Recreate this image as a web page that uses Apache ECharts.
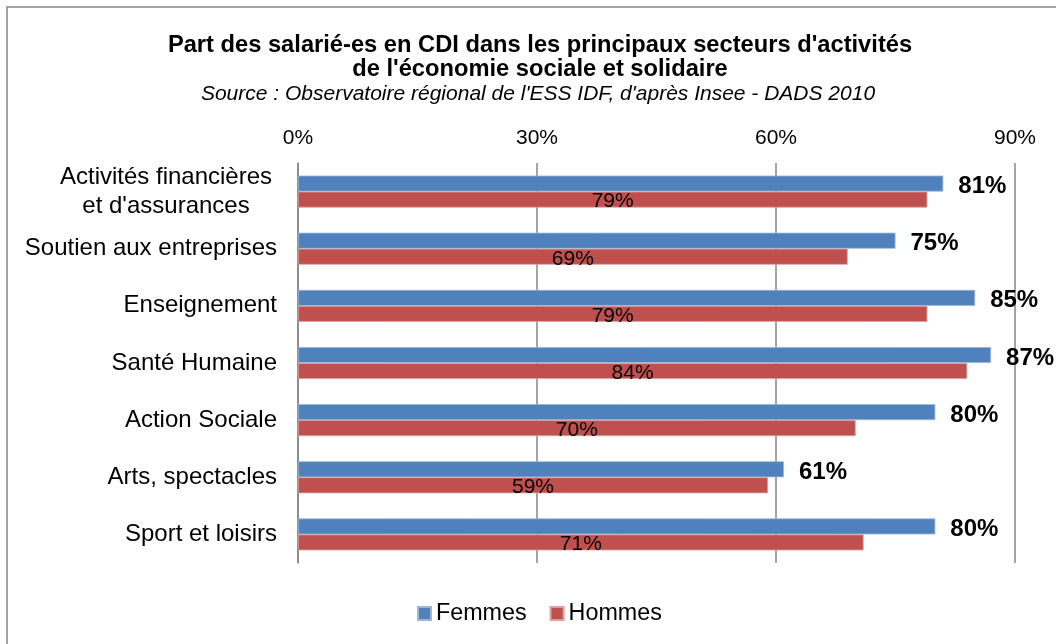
<!DOCTYPE html>
<html>
<head>
<meta charset="utf-8">
<script src="https://cdn.jsdelivr.net/npm/echarts@6/dist/echarts.min.js"></script>
<style>
  html, body { margin: 0; padding: 0; background: #fff; }
  #main { width: 1056px; height: 644px; }
</style>
</head>
<body>
<div id="main"></div>
<script>
var secteurs = [
  "Activités financières\net d'assurances",
  'Soutien aux entreprises',
  'Enseignement',
  'Santé Humaine',
  'Action Sociale',
  'Arts, spectacles',
  'Sport et loisirs'
];
var femmes = [81, 75, 85, 87, 80, 61, 80];
var hommes = [79, 69, 79, 84, 70, 59, 71];
var ticks = [0, 30, 60, 90];

var font = 'Liberation Sans, Arial, sans-serif';
var myChart = echarts.init(document.getElementById('main'));

myChart.setOption({
  textStyle: { fontFamily: font, color: '#000' },
  graphic: [{
    type: 'rect',
    shape: { x: 7, y: 7, width: 1200, height: 800 },
    style: { fill: 'none', stroke: '#868686', lineWidth: 1.5 },
    silent: true
  }],
  title: [{
    text: "Part des salarié-es en CDI dans les principaux secteurs d'activités\nde l'économie sociale et solidaire",
    left: 535,
    top: 28,
    textAlign: 'center',
    textStyle: { fontFamily: font, fontSize: 23.7, fontWeight: 'bold', color: '#000', lineHeight: 24 }
  }, {
    text: "Source : Observatoire régional de l'ESS IDF, d'après Insee - DADS 2010",
    left: 533,
    top: 79,
    textAlign: 'center',
    textStyle: { fontFamily: font, fontSize: 21, fontStyle: 'italic', fontWeight: 'normal', color: '#000' }
  }],
  legend: {
    bottom: 14,
    left: 412,
    itemWidth: 13,
    itemHeight: 13,
    itemGap: 23,
    icon: 'rect',
    textStyle: { fontFamily: font, fontSize: 23.3, color: '#000' },
    data: ['Femmes', 'Hommes']
  },
  grid: { left: 298, right: 41, top: 163, bottom: 81, containLabel: false },
  xAxis: {
    type: 'value',
    position: 'top',
    min: ticks[0],
    max: ticks[ticks.length - 1],
    interval: 30,
    axisLine: { show: false },
    axisTick: { show: false },
    splitLine: { lineStyle: { color: '#868686', width: 1.5 } },
    axisLabel: { formatter: '{value}%', fontSize: 21, color: '#000', margin: 14, fontFamily: font }
  },
  yAxis: {
    type: 'category',
    inverse: true,
    data: secteurs,
    axisLine: { lineStyle: { color: '#868686', width: 1.5 } },
    axisTick: { show: false },
    axisLabel: {
      margin: 21,
      fontSize: 24,
      color: '#000',
      fontFamily: font,
      formatter: function (v) {
        if (v.indexOf('\n') >= 0) {
          return v.split('\n').map(function (s) { return '{c|' + s + '}'; }).join('\n');
        }
        return v;
      },
      rich: {
        c: { width: 222, align: 'center', fontSize: 24, lineHeight: 29, color: '#000', fontFamily: font }
      }
    }
  },
  series: [{
    name: 'Femmes',
    type: 'bar',
    data: femmes,
    barGap: '0%',
    barCategoryGap: '44%',
    itemStyle: { color: '#4F81BD', borderColor: '#9DB6D8', borderWidth: 0.8 },
    label: {
      show: true,
      position: 'right',
      distance: 15,
      offset: [0, 3],
      formatter: '{c}%',
      fontSize: 24,
      fontWeight: 'bold',
      color: '#000',
      fontFamily: font
    }
  }, {
    name: 'Hommes',
    type: 'bar',
    data: hommes,
    barGap: '0%',
    barCategoryGap: '44%',
    itemStyle: { color: '#C0504D', borderColor: '#DBA09E', borderWidth: 0.8 },
    label: {
      show: true,
      position: 'inside',
      offset: [0, 2],
      formatter: '{c}%',
      fontSize: 21,
      color: '#000',
      fontFamily: font
    }
  }]
});
</script>
</body>
</html>
